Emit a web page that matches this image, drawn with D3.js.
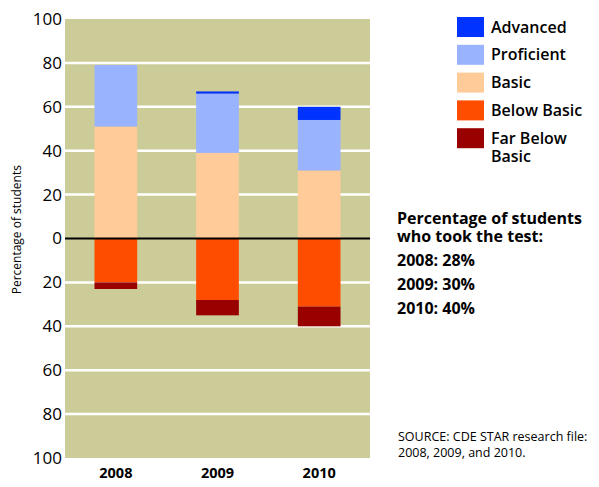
<!DOCTYPE html>
<html>
<head>
<meta charset="utf-8">
<script src="https://cdn.jsdelivr.net/npm/d3@7"></script>
<style>
  body { margin: 0; background: #fff; }
  svg text { font-family: "Open Sans", sans-serif; fill: #000; }
</style>
</head>
<body>
<div class="chart"></div>
<script>
var width = 599, height = 487;

// data
var years = ["2008", "2009", "2010"];
var advanced = [0, 1, 6];
var proficient = [28, 27, 23];
var basic = [51, 39, 31];
var belowBasic = [20, 28, 31];
var farBelowBasic = [3, 7, 9];
var tookTest = ["2008: 28%", "2009: 30%", "2010: 40%"];
var tickValues = [-100, -80, -60, -40, -20, 0, 20, 40, 60, 80, 100];

var levels = ["Advanced", "Proficient", "Basic", "Below Basic", "Far Below Basic"];
var colors = ["#0033ff", "#99b3ff", "#ffcc99", "#ff4d00", "#990000"];

var margin = {top: 19, left: 65, right: 229, bottom: 29};

var svg = d3.select(".chart")
    .append("svg")
    .attr("width", width)
    .attr("height", height);

var x = d3.scaleBand()
    .domain(years)
    .range([margin.left, width - margin.right])
    .paddingInner(0.58)
    .paddingOuter(0.29);

var y = d3.scaleLinear()
    .domain([-100, 100])
    .range([height - margin.bottom, margin.top]);

// background
svg.append("rect")
    .attr("x", margin.left)
    .attr("y", y(100))
    .attr("width", width - margin.right - margin.left)
    .attr("height", y(-100) - y(100))
    .attr("fill", "#cccc99");

// white grid lines
svg.selectAll(".grid")
    .data(tickValues.filter(function(d) { return d != 0 && Math.abs(d) != 100; }))
    .enter().append("line")
    .attr("x1", margin.left)
    .attr("x2", width - margin.right)
    .attr("y1", function(d) { return y(d); })
    .attr("y2", function(d) { return y(d); })
    .attr("stroke", "#fff")
    .attr("stroke-width", 2.5);

// stacked segments, up from zero and down from zero
var segs = [];
years.forEach(function(yr, i) {
  // basic, proficient, advanced going up
  var up = [[2, basic[i]], [1, proficient[i]], [0, advanced[i]]];
  var y0 = 0;
  up.forEach(function(p) {
    segs.push({year: yr, lvl: p[0], a: y0, b: y0 + p[1]});
    y0 += p[1];
  });
  var down = [[3, belowBasic[i]], [4, farBelowBasic[i]]];
  y0 = 0;
  down.forEach(function(p) {
    segs.push({year: yr, lvl: p[0], a: y0, b: y0 - p[1]});
    y0 -= p[1];
  });
});

svg.selectAll(".seg")
    .data(segs)
    .enter().append("rect")
    .attr("class", "seg")
    .attr("x", function(d) { return x(d.year); })
    .attr("width", x.bandwidth())
    .attr("y", function(d) { return y(Math.max(d.a, d.b)); })
    .attr("height", function(d) { return Math.abs(y(d.a) - y(d.b)); })
    .attr("fill", function(d) { return colors[d.lvl]; });

// zero line
svg.append("line")
    .attr("x1", margin.left)
    .attr("x2", width - margin.right)
    .attr("y1", y(0))
    .attr("y2", y(0))
    .attr("stroke", "#000")
    .attr("stroke-width", 2);

// y axis
var yAxis = d3.axisLeft(y)
    .tickValues(tickValues)
    .tickSize(0)
    .tickPadding(3)
    .tickFormat(function(d) { return Math.abs(d); });

svg.append("g")
    .attr("transform", "translate(" + margin.left + ",0)")
    .call(yAxis)
    .call(function(g) { g.select(".domain").remove(); })
    .selectAll("text")
    .style("font-family", "Open Sans, sans-serif")
    .style("font-size", "17px")
    .attr("fill", "#000");

svg.append("text")
    .attr("transform", "translate(21," + y(4) + ") rotate(-90)")
    .attr("text-anchor", "middle")
    .style("font-size", "12px")
    .text("Percentage of students");

// x axis
var xAxis = d3.axisBottom(x).tickSize(0).tickPadding(10);
svg.append("g")
    .attr("transform", "translate(0," + y(-100) + ")")
    .call(xAxis)
    .call(function(g) { g.select(".domain").remove(); })
    .selectAll("text")
    .style("font-family", "Open Sans, sans-serif")
    .style("font-size", "14.5px")
    .style("font-weight", "bold")
    .attr("fill", "#000");

// legend
var legend = svg.selectAll(".legend")
    .data(levels)
    .enter().append("g")
    .attr("transform", function(d, i) { return "translate(457," + (17 + i * 27.8) + ")"; });

legend.append("rect")
    .attr("width", 27)
    .attr("height", 20)
    .attr("fill", function(d, i) { return colors[i]; });

legend.append("text")
    .attr("x", 34)
    .attr("y", 15.5)
    .style("font-size", "16px")
    .style("font-weight", "600")
    .each(function(d) {
      var t = d3.select(this);
      if (d == "Far Below Basic") {
        t.append("tspan").attr("x", 34).text("Far Below");
        t.append("tspan").attr("x", 34).attr("dy", 18).text("Basic");
      } else {
        t.text(d);
      }
    });

// test takers note
var note = svg.append("text")
    .attr("x", 397)
    .style("font-size", "16px")
    .style("font-weight", "bold");
note.append("tspan").attr("x", 397).attr("y", 224).text("Percentage of students");
note.append("tspan").attr("x", 397).attr("y", 242).text("who took the test:");
tookTest.forEach(function(s, i) {
  svg.append("text")
      .attr("x", 397)
      .attr("y", 266 + i * 24)
      .style("font-size", "16px")
      .style("font-weight", "bold")
      .text(s);
});

// source
var src = svg.append("text")
    .style("font-size", "12.5px");
src.append("tspan").attr("x", 398).attr("y", 441).text("SOURCE: CDE STAR research file:");
src.append("tspan").attr("x", 398).attr("y", 457).text("2008, 2009, and 2010.");
</script>
</body>
</html>
